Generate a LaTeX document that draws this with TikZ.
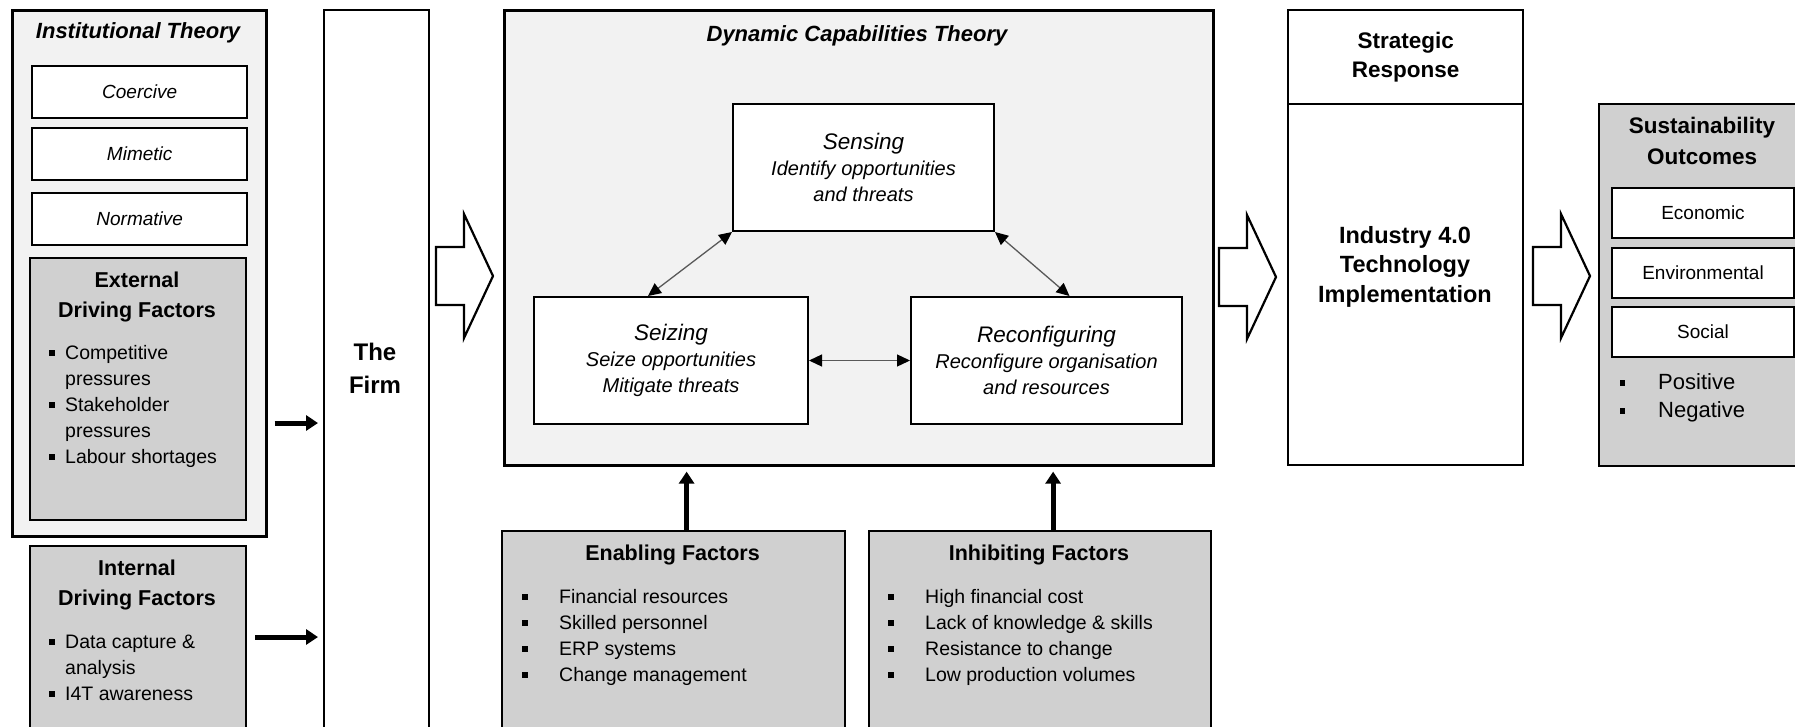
\documentclass[tikz,border=0pt]{standalone}
\usepackage{fontspec}
\setmainfont{Liberation Sans}
\usetikzlibrary{arrows.meta}

\definecolor{panelgray}{HTML}{F2F2F2}
\definecolor{factorgray}{HTML}{D0D0D0}
\definecolor{linkgray}{HTML}{595959}

% square bullet, optional width of the bullet column
\newcommand{\bul}[1][16pt]{\makebox[#1][l]{\rule[3.5pt]{5.5pt}{5.5pt}}}
\newcommand{\fs}[2]{\fontsize{#1}{#2}\selectfont}

\tikzset{
  panel/.style={draw, line width=2.6pt, fill=panelgray, inner sep=0pt, anchor=north west},
  factor/.style={draw, line width=2.2pt, fill=factorgray, inner sep=0pt, anchor=north west},
  plainbox/.style={draw, line width=2.4pt, fill=white, inner sep=0pt, anchor=north west},
  capbox/.style={draw, line width=2pt, fill=white, inner sep=0pt, align=center, font=\itshape\fs{20}{26}},
  head/.style={align=center, font=\bfseries\fs{21.5}{30}},
  list/.style={anchor=base west, inner sep=0pt, font=\fs{19.5}{26}},
  link/.style={draw=linkgray, line width=1.3pt,
    arrows={Triangle[length=13pt,width=12pt,black]-Triangle[length=13pt,width=12pt,black]}},
  push/.style={line width=5pt, -{Triangle[length=12pt,width=15pt]}},
  bigarrow/.pic={\draw[line width=2.2pt, fill=white] (0,-29) -- (28,-29) -- (28,-62) -- (57,0)
    -- (28,62) -- (28,29) -- (0,29) -- cycle;}
}

\begin{document}
\begin{tikzpicture}[x=1pt, y=-1pt]
    \useasboundingbox (0,0) rectangle (1795,726);

    % institutional theory
    \node[panel, minimum width=254pt, minimum height=526pt] (inst) at (11,9) {};
    \node[head, font=\bfseries\itshape\fs{22}{30}] (insttitle) at (138,33) {Institutional Theory};
    \foreach \name/\y in {Coercive/65, Mimetic/127, Normative/192}
      \node[plainbox, minimum width=215pt, minimum height=52pt, font=\itshape\fs{19}{24}] (\name) at (31,\y) {\name};

    % external and internal drivers
    \node[factor, minimum width=216pt, minimum height=262pt] (ext) at (29,257) {};
    \node[head] (exthead) at (137,297) {External\\Driving Factors};
    \node[list] (extlist) at (49,359) {\begin{tabular}[t]{@{}l@{}l@{}}
      \bul & Competitive\\ & pressures\\ \bul & Stakeholder\\ & pressures\\ \bul & Labour shortages
    \end{tabular}};

    \node[factor, minimum width=216pt, minimum height=200pt] (int) at (29,545) {};
    \node[head] (inthead) at (137,584.5) {Internal\\Driving Factors};
    \node[list] (intlist) at (49,648) {\begin{tabular}[t]{@{}l@{}l@{}}
      \bul & Data capture \&\\ & analysis\\ \bul & I4T awareness
    \end{tabular}};

    % the firm
    \node[plainbox, minimum width=105pt, minimum height=740pt] (firm) at (323,9) {};
    \node[head, font=\bfseries\fs{24}{33}] (firmtext) at (375,368) {The\\Firm};

    \coordinate (exty) at (0,423);
    \coordinate (inty) at (0,637);
    \draw[push, shorten <=7pt, shorten >=5pt] (inst.east |- exty) -- (firm.west |- exty);
    \draw[push, shorten <=8pt, shorten >=5pt] (int.east |- inty) -- (firm.west |- inty);

    \pic at (436,276) {bigarrow};

    % dynamic capabilities
    \node[panel, minimum width=709pt, minimum height=455pt] (dct) at (503,9) {};
    \node[head, font=\bfseries\itshape\fs{22}{30}] (dcttitle) at (857,36) {Dynamic Capabilities Theory};

    \node[capbox, minimum width=261pt, minimum height=127pt] (sensing) at (863.5,167.5)
      {{\fs{22.5}{27}Sensing}\\Identify opportunities\\and threats};
    \node[capbox, minimum width=274pt, minimum height=127pt] (seizing) at (671,360.5)
      {{\fs{22.5}{27}Seizing}\\Seize opportunities\\Mitigate threats};
    \node[capbox, minimum width=271pt, minimum height=127pt] (reconfig) at (1046.5,360.5)
      {{\fs{22.5}{27}Reconfiguring}\\Reconfigure organisation\\and resources};

    \draw[link] (sensing.south west) -- ([xshift=-23pt]seizing.north);
    \draw[link] (sensing.south east) -- ([xshift=23pt]reconfig.north);
    \draw[link] (seizing.east) -- (reconfig.west);

    % enabling and inhibiting factors
    \node[factor, minimum width=343pt, minimum height=215pt] (enabling) at (501,530) {};
    \node[head] (enhead) at (672.5,555) {Enabling Factors};
    \node[list] (enlist) at (522,603) {\begin{tabular}[t]{@{}l@{}l@{}}
      \bul[37pt] & Financial resources\\ \bul[37pt] & Skilled personnel\\
      \bul[37pt] & ERP systems\\ \bul[37pt] & Change management
    \end{tabular}};

    \node[factor, minimum width=342pt, minimum height=215pt] (inhibiting) at (868,530) {};
    \node[head] (inhead) at (1039,555) {Inhibiting Factors};
    \node[list] (inlist) at (888,603) {\begin{tabular}[t]{@{}l@{}l@{}}
      \bul[37pt] & High financial cost\\ \bul[37pt] & Lack of knowledge \& skills\\
      \bul[37pt] & Resistance to change\\ \bul[37pt] & Low production volumes
    \end{tabular}};

    \coordinate (enup) at ([xshift=13pt]enabling.north);
    \coordinate (inup) at ([xshift=13pt]inhibiting.north);
    \draw[push, shorten >=5pt] (enup) -- (enup |- dct.south);
    \draw[push, shorten >=5pt] (inup) -- (inup |- dct.south);

    \pic at (1219,277) {bigarrow};

    % strategic response
    \node[plainbox, minimum width=235pt, minimum height=94pt, align=center,
      font=\bfseries\fs{22.5}{29}] (strategic) at (1287,9) {Strategic\\Response};
    \node[plainbox, minimum width=235pt, minimum height=361pt] (impl) at (1287,103) {};
    \node[head, font=\bfseries\fs{23.5}{29.5}] (impltext) at (1405,266.5)
      {Industry 4.0\\Technology\\Implementation};

    \pic at (1533,276) {bigarrow};

    % sustainability outcomes
    \node[factor, minimum width=208pt, minimum height=362pt] (sust) at (1598,103) {};
    \node[head, font=\bfseries\fs{22.5}{31}] (susthead) at (1702,140.5) {Sustainability\\Outcomes};
    \foreach \name/\y in {Economic/187, Environmental/247, Social/306}
      \node[plainbox, line width=2pt, minimum width=182pt, minimum height=50pt, font=\fs{19}{24}] (\name) at (1611,\y) {\name};
    \node[list, font=\fs{22}{28}] (sustlist) at (1619.5,389) {\begin{tabular}[t]{@{}l@{}l@{}}
      \bul[38.5pt] & Positive\\ \bul[38.5pt] & Negative
    \end{tabular}};
\end{tikzpicture}
\end{document}
